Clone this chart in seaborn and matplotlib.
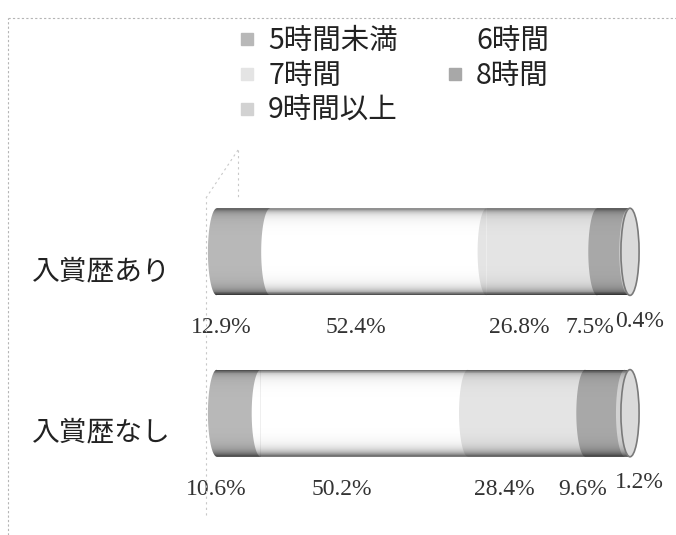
import numpy as np
import pandas as pd
import matplotlib
matplotlib.use("Agg")
import matplotlib.pyplot as plt
import matplotlib.transforms as mtransforms
import seaborn as sns
from matplotlib.lines import Line2D
from matplotlib.patches import Ellipse, Polygon, PathPatch
from matplotlib.collections import PolyCollection
from matplotlib.path import Path

# Sleep duration shares (%) by award history
groups = ["入賞歴あり", "入賞歴なし"]
bands = ["5時間未満", "6時間", "7時間", "8時間", "9時間以上"]
share_awarded = [12.9, 52.4, 26.8, 7.5, 0.4]
share_not_awarded = [10.6, 50.2, 28.4, 9.6, 1.2]
band_colors = ["#b8b8b8", "#ffffff", "#e4e4e4", "#a8a8a8", "#d2d2d2"]
cap_color = "#dadada"

sns.set_theme(style="white")
plt.rcParams["font.family"] = ["Noto Sans CJK JP", "DejaVu Sans"]

df = pd.DataFrame({
    "group": np.repeat(groups, len(bands)),
    "band": bands * len(groups),
    "share": share_awarded + share_not_awarded,
})
df["end"] = df.groupby("group")["share"].cumsum()
df["start"] = df["end"] - df["share"]

W, H = 676, 535
BAR_H = 0.54
CAP_A = 2.2          # half-width of the elliptical cylinder ends, in % units
PAD = CAP_A + 1
b = BAR_H / 2

# x axis: 0 % at 217 px, 100 % at 630 px
px_per_unit = 413 / 100
ax_left = 217 - PAD * px_per_unit
ax_width = (100 + 2 * PAD) * px_per_unit

fig = plt.figure(figsize=(W / 100, H / 100), dpi=100)
fig.patch.set_facecolor("white")
ax = fig.add_axes([ax_left / W, 0.0467, ax_width / W, 0.6636])

# stacked cylinders: draw cumulative totals, widest first
for band, color in reversed(list(zip(bands, band_colors))):
    sub = df[df["band"] == band]
    sns.barplot(data=sub, x="end", y="group", order=groups, color=color,
                width=BAR_H, saturation=1, linewidth=0, errorbar=None,
                ax=ax, zorder=2)

theta = np.linspace(np.pi / 2, 3 * np.pi / 2, 60)


def left_arc(xc, yc):
    """Left half of an end ellipse, from the top edge round to the bottom."""
    return np.column_stack([xc + CAP_A * np.cos(theta),
                            yc + b * np.sin(theta)])


def right_arc(xc, yc):
    """Right half of an end ellipse, from the bottom edge round to the top."""
    return np.column_stack([xc - CAP_A * np.cos(theta),
                            yc - b * np.sin(theta)])


# shading profile across the cylinder (top -> bottom)
N_STRIPES = 90
t = (np.arange(N_STRIPES) + 0.5) / N_STRIPES
alpha = (0.55 * np.exp(-t / 0.035) + 0.65 * np.exp(-(1 - t) / 0.05)
         + 0.10 * (2 * t - 1) ** 4)
alpha = np.clip(alpha, 0, 0.85)

for i, g in enumerate(groups):
    rows = df[df["group"] == g].reset_index(drop=True)
    # curved segment boundaries
    for j, r in rows.iterrows():
        ax.add_patch(Polygon(left_arc(r["start"], i), closed=True,
                             facecolor=band_colors[j], edgecolor="none",
                             zorder=3))
    total = rows["end"].iloc[-1]
    # silhouette used to clip the shading
    outline = np.vstack([left_arc(0, i), right_arc(total, i)])
    clip = PathPatch(Path(np.vstack([outline, outline[:1]]), closed=True),
                     transform=ax.transData, facecolor="none",
                     edgecolor="none")
    ax.add_patch(clip)
    edges = i - b + np.linspace(0, 1, N_STRIPES + 1) * BAR_H
    x0, x1 = -CAP_A, total + CAP_A
    stripes = [[(x0, edges[k]), (x1, edges[k]), (x1, edges[k + 1]),
                (x0, edges[k + 1])] for k in range(N_STRIPES)]
    shade = PolyCollection(stripes, facecolors=[(0, 0, 0, a) for a in alpha],
                           edgecolors="none", zorder=4)
    ax.add_collection(shade)
    shade.set_clip_path(clip)
    # end face of the cylinder
    ax.add_patch(Ellipse((total, i), 2 * CAP_A, BAR_H, facecolor=cap_color,
                         edgecolor="#7a7a7a", linewidth=1.2, zorder=5))

    # value labels below each segment
    n = len(rows)
    for j, r in rows.iterrows():
        if j < n - 1:
            x, y = (r["start"] + r["end"]) / 2 - 5.5, i + 0.47
        else:
            x, y = r["end"] + 2.2, i + 0.43
        ax.text(x, y, f"{r['share']:.1f}%", ha="center", va="center",
                family=["Liberation Serif", "DejaVu Serif"], fontsize=17,
                color="#333333", zorder=6)

ax.set_xlim(-PAD, 100 + PAD)
ax.set_ylim(1.6, -0.6)
ax.set_xlabel("")
ax.set_ylabel("")
ax.set_xticks([])
for s in ax.spines.values():
    s.set_visible(False)
ax.tick_params(axis="y", length=0, pad=24, labelsize=20, labelcolor="#222222")
shift = mtransforms.ScaledTranslation(0, -16 / 100, fig.dpi_scale_trans)
for lab in ax.get_yticklabels():
    lab.set_transform(lab.get_transform() + shift)

# legend, filled row by row
order = [0, 2, 4, 1, 3]
handles = [Line2D([], [], marker="s", linestyle="", markersize=8,
                  markerfacecolor=band_colors[k], markeredgecolor=band_colors[k])
           for k in order]
fig.legend(handles, [bands[k] for k in order], ncol=2, loc="upper left",
           bbox_to_anchor=(224 / W, 1 - 15 / H), frameon=False, fontsize=20.5,
           handlelength=0.8, handletextpad=0.35, columnspacing=1.6,
           labelspacing=0.17, borderaxespad=0, labelcolor="#222222")

# faint frame and back-wall guide lines
dash = dict(color="#b5b5b5", linewidth=0.8, linestyle=(0, (2, 2)),
            transform=fig.transFigure)
fig.add_artist(Line2D([8 / W, 8 / W], [0, 1 - 18 / H], **dash))
fig.add_artist(Line2D([8 / W, 1], [1 - 18 / H, 1 - 18 / H], **dash))
wall = dict(color="#c8c8c8", linewidth=0.8, linestyle=(0, (2, 3)),
            transform=fig.transFigure)
fig.add_artist(Line2D([206 / W, 206 / W], [1 - 515 / H, 1 - 198 / H], **wall))
fig.add_artist(Line2D([206 / W, 238 / W], [1 - 198 / H, 1 - 150 / H], **wall))
fig.add_artist(Line2D([238 / W, 238 / W], [1 - 150 / H, 1 - 200 / H], **wall))

fig.savefig("out.png", dpi=100, facecolor="white")
